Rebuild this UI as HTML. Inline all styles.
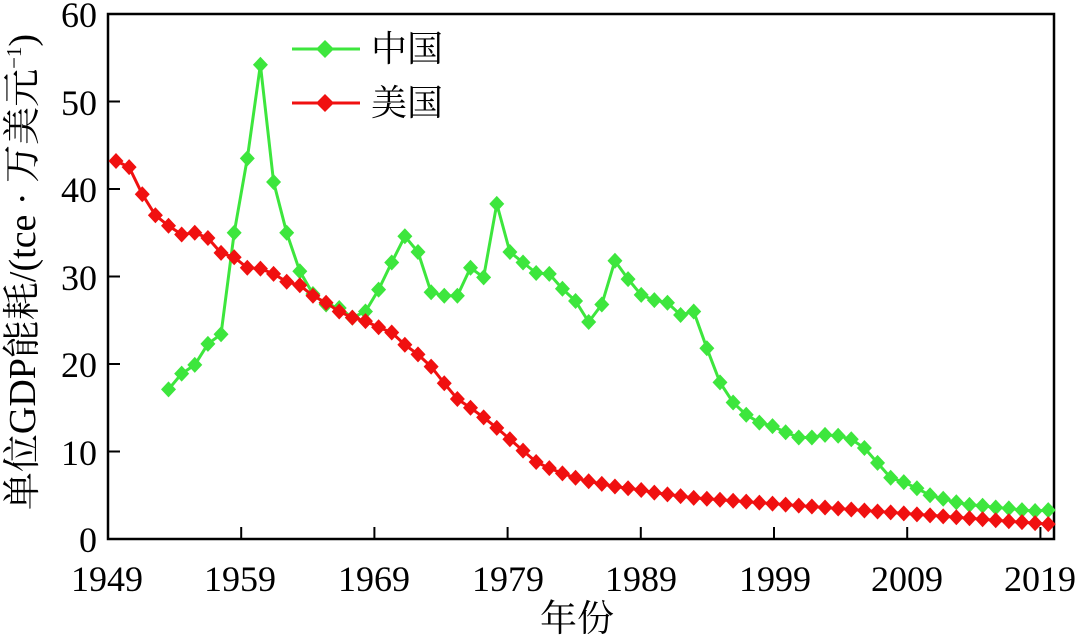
<!DOCTYPE html>
<html><head><meta charset="utf-8"><style>
html,body{margin:0;padding:0;background:#fff;}
svg text{font-family:"Liberation Serif","Noto Serif CJK SC","Noto Sans CJK SC",serif;fill:#000;}
</style></head><body>
<svg id="s" width="1080" height="638" viewBox="0 0 1080 638" xmlns="http://www.w3.org/2000/svg">
<rect x="108" y="14" width="946" height="525" fill="none" stroke="#000" stroke-width="2.5"/>
<g id="ticks"></g>
<g id="series"></g>
<g font-size="36">
<text x="107" y="591" text-anchor="middle">1949</text>
<text x="240" y="591" text-anchor="middle">1959</text>
<text x="374" y="591" text-anchor="middle">1969</text>
<text x="508" y="591" text-anchor="middle">1979</text>
<text x="641" y="591" text-anchor="middle">1989</text>
<text x="775" y="591" text-anchor="middle">1999</text>
<text x="907" y="591" text-anchor="middle">2009</text>
<text x="1040" y="591" text-anchor="middle">2019</text>
<text x="97" y="552" text-anchor="end">0</text>
<text x="97" y="465" text-anchor="end">10</text>
<text x="97" y="377" text-anchor="end">20</text>
<text x="97" y="290" text-anchor="end">30</text>
<text x="97" y="202" text-anchor="end">40</text>
<text x="97" y="115" text-anchor="end">50</text>
<text x="97" y="27" text-anchor="end">60</text>
<text x="577" y="631" text-anchor="middle" font-size="37">年份</text>
<text transform="translate(35,272) rotate(-90)" text-anchor="middle" font-size="38">单位GDP能耗/(tce · 万美元<tspan font-size="21" dy="-14">−1</tspan><tspan dy="14">)</tspan></text>
<text x="371" y="61" font-size="36">中国</text>
<text x="371" y="115" font-size="36">美国</text>
</g>
<line x1="292" y1="49" x2="360" y2="49" stroke="#3de63d" stroke-width="3"/>
<path d="M325 40 L334 49 L325 58 L316 49Z" fill="#3de63d"/>
<line x1="292" y1="103" x2="360" y2="103" stroke="#f01010" stroke-width="3"/>
<path d="M325 94 L334 103 L325 112 L316 103Z" fill="#f01010"/>
</svg>
<script>
var X=function(y){return 116+(y-1949)*13.13;},Y=function(v){return 539-v*8.75;};
var TX=function(y){return 108+(y-1949)*13.32;};
var t=document.getElementById('ticks'),h='';
[1949,1959,1969,1979,1989,1999,2009,2019].forEach(function(y){var x=TX(y);h+='<line x1="'+x+'" y1="539" x2="'+x+'" y2="527" stroke="#000" stroke-width="2"/>';});
for(var v=10;v<60;v+=10){h+='<line x1="108" y1="'+Y(v)+'" x2="120" y2="'+Y(v)+'" stroke="#000" stroke-width="2"/>';}
t.innerHTML=h;
var cn=[17.1,18.9,19.9,22.3,23.4,35.0,43.5,54.2,40.8,35.0,30.6,28.0,26.8,26.4,25.3,26.0,28.5,31.6,34.6,32.8,28.2,27.8,27.8,31.0,29.9,38.3,32.8,31.6,30.4,30.3,28.6,27.2,24.8,26.8,31.8,29.7,27.9,27.3,27.0,25.6,26.0,21.8,17.9,15.6,14.2,13.3,12.9,12.2,11.6,11.6,11.9,11.8,11.4,10.4,8.7,7.0,6.5,5.8,5.0,4.6,4.2,3.9,3.8,3.6,3.5,3.3,3.2,3.3];
var us=[43.2,42.5,39.4,37.0,35.8,34.8,35.0,34.4,32.7,32.2,31.0,30.9,30.3,29.4,29.0,27.8,27.0,26.0,25.3,24.9,24.2,23.6,22.2,21.1,19.7,17.8,16.0,15.0,13.9,12.7,11.4,10.1,8.8,8.1,7.5,7.0,6.6,6.3,6.0,5.8,5.6,5.3,5.1,4.9,4.7,4.6];
for(var y=1995;y<=2020;y++)us.push(4.6-(y-1994)*(2.9/26));
function draw(d,start,col){var p='',m='';d.forEach(function(v,i){var x=X(start+i),yy=Y(v);p+=(i?'L':'M')+x.toFixed(1)+' '+yy.toFixed(1);m+='<path d="M'+x+' '+(yy-8)+'L'+(x+7.5)+' '+yy+'L'+x+' '+(yy+8)+'L'+(x-7.5)+' '+yy+'Z" fill="'+col+'"/>';});
return '<path d="'+p+'" fill="none" stroke="'+col+'" stroke-width="3"/>'+m;}
document.getElementById('series').innerHTML=draw(cn,1953,'#3de63d')+draw(us,1949,'#f01010');
</script>
</body></html>
